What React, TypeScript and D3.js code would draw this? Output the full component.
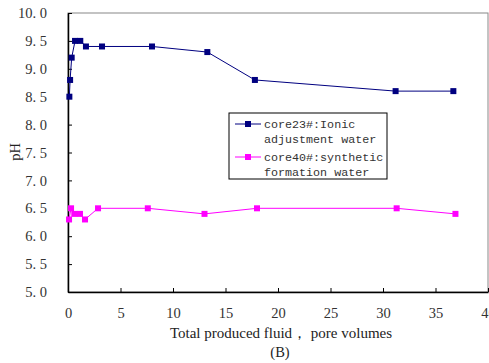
import { useRef, useEffect } from "react";
import * as d3 from "d3";

const core23X = [0.13, 0.2, 0.35, 0.67, 1.17, 1.71, 3.24, 8.0, 13.27, 17.8, 31.2, 36.7];
const core23pH = [8.5, 8.8, 9.2, 9.5, 9.5, 9.4, 9.4, 9.4, 9.3, 8.8, 8.6, 8.6];
const core40X = [0.1, 0.29, 0.6, 1.14, 1.62, 2.86, 7.6, 13.0, 18.0, 31.3, 36.9];
const core40pH = [6.3, 6.5, 6.4, 6.4, 6.3, 6.5, 6.5, 6.4, 6.5, 6.5, 6.4];
const xTicks = [0, 5, 10, 15, 20, 25, 30, 35, 40];
const yTicks = [5.0, 5.5, 6.0, 6.5, 7.0, 7.5, 8.0, 8.5, 9.0, 9.5, 10.0];

const W = 489;
const H = 363;

export default function App() {
  const svgRef = useRef<SVGSVGElement | null>(null);

  useEffect(() => {
    if (!svgRef.current) return;
    const svg = d3.select(svgRef.current);
    svg.selectAll("*").remove();

    const x = d3.scaleLinear().domain([0, 40]).range([68, 488]);
    const y = d3.scaleLinear().domain([5, 10]).range([292, 13]);

    // frame
    svg.append("rect")
      .attr("x", x(0)).attr("y", y(10))
      .attr("width", x(40) - x(0)).attr("height", y(5) - y(10))
      .attr("fill", "none").attr("stroke", "#888").attr("stroke-width", 1);

    const xAxis = svg.append("g")
      .attr("transform", `translate(0,${y(5)})`)
      .call(d3.axisBottom(x).tickValues(xTicks).tickSizeInner(-4).tickSizeOuter(0).tickFormat(d3.format("d")));
    xAxis.select(".domain").attr("stroke", "#000").attr("stroke-width", 1.5);
    xAxis.selectAll(".tick text")
      .attr("y", 16)
      .attr("font-family", "Liberation Serif")
      .attr("font-size", 14.5)
      .attr("fill", "#333");

    const yAxis = svg.append("g")
      .attr("transform", `translate(${x(0)},0)`)
      .call(d3.axisLeft(y).tickValues(yTicks).tickSizeInner(-4).tickSizeOuter(0)
        .tickFormat((d) => d3.format(".1f")(d as number).replace(".", ". ")));
    yAxis.select(".domain").attr("stroke", "#000").attr("stroke-width", 1.5);
    yAxis.selectAll(".tick text")
      .attr("x", -21)
      .attr("font-family", "Liberation Serif")
      .attr("font-size", 14.5)
      .attr("fill", "#333");

    const series = [
      { xs: core23X, ys: core23pH, color: "#000080" },
      { xs: core40X, ys: core40pH, color: "#ff00ff" },
    ];
    const line = d3.line<[number, number]>().x((d) => x(d[0])).y((d) => y(d[1]));
    series.forEach((s) => {
      const pts = s.xs.map((v, i) => [v, s.ys[i]] as [number, number]);
      svg.append("path").attr("d", line(pts)).attr("fill", "none")
        .attr("stroke", s.color).attr("stroke-width", 1);
      svg.append("g").selectAll("rect").data(pts).enter().append("rect")
        .attr("x", (d) => x(d[0]) - 3).attr("y", (d) => y(d[1]) - 3)
        .attr("width", 6).attr("height", 6).attr("fill", s.color);
    });

    // legend
    const lg = svg.append("g");
    lg.append("rect").attr("x", 229).attr("y", 113).attr("width", 158).attr("height", 66)
      .attr("fill", "#fff").attr("stroke", "#000").attr("stroke-width", 1);
    const items = [
      { color: "#000080", lines: ["core23#:Ionic", "adjustment water"] },
      { color: "#ff00ff", lines: ["core40#:synthetic", "formation water"] },
    ];
    items.forEach((it, i) => {
      const cy = 124 + i * 33;
      lg.append("line").attr("x1", 235).attr("x2", 261).attr("y1", cy).attr("y2", cy)
        .attr("stroke", it.color).attr("stroke-width", 1);
      lg.append("rect").attr("x", 245).attr("y", cy - 3).attr("width", 6).attr("height", 6).attr("fill", it.color);
      it.lines.forEach((t, j) => {
        lg.append("text").attr("x", 264).attr("y", cy + 4 + j * 15)
          .attr("font-family", "Liberation Mono").attr("font-size", 11.7)
          .attr("fill", "#333").text(t);
      });
    });

    svg.append("text").attr("transform", `translate(20,152) rotate(-90)`)
      .attr("text-anchor", "middle").attr("font-family", "Liberation Serif")
      .attr("font-size", 14.5).attr("fill", "#222").text("pH");

    svg.append("text").attr("x", 281).attr("y", 338).attr("text-anchor", "middle")
      .attr("font-family", "Liberation Serif").attr("font-size", 15).attr("fill", "#222")
      .text("Total produced fluid，  pore volumes");

    svg.append("text").attr("x", 280).attr("y", 357).attr("text-anchor", "middle")
      .attr("font-family", "Liberation Serif").attr("font-size", 14.5).attr("fill", "#222")
      .text("(B)");
  }, []);

  return (
    <svg ref={svgRef} width={W} height={H}
      style={{ position: "absolute", left: 0, top: 0, background: "#fff" }} />
  );
}
